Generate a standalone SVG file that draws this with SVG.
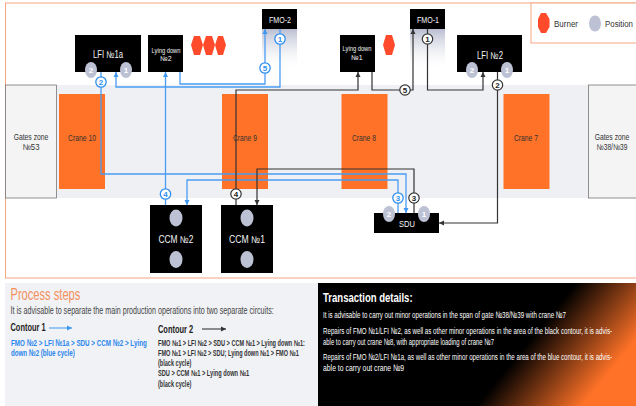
<svg xmlns="http://www.w3.org/2000/svg" width="636" height="406" viewBox="0 0 636 406">
<style>
text{font-family:"Liberation Sans",Arial,sans-serif}
.box{fill:#000}
.crane{fill:#ff7227}
.wt{fill:#f4f4f4;text-anchor:middle}
.dk{fill:#333;text-anchor:middle}
.gate{fill:#f4f4f5;stroke:#777;stroke-width:.8}
.pos{fill:#bcc1d4}
.posl{fill:#fff;font-size:8px;font-weight:bold;text-anchor:middle}
.burn{fill:#ff4b2b}
.bl{fill:none;stroke:#4a9cf3;stroke-width:1.3}
.bk{fill:none;stroke:#333;stroke-width:1.2}
.bb{fill:#fff;stroke:#2f8ff0;stroke-width:1.3}
.kb{fill:#fff;stroke:#333;stroke-width:1.2}
.bt{font-size:8px;font-weight:bold;text-anchor:middle}
.body{font-size:9.500px;fill:#fff}
.st{font-size:8.500px;fill:#333;font-weight:bold}
.sb{font-size:9.500px;fill:#2a86ea;font-weight:bold}
</style>
<defs>
<marker id="ab" markerUnits="userSpaceOnUse" markerWidth="7" markerHeight="6" refX="5" refY="3" orient="auto"><path d="M0 0.500L5 3L0 5.500z" fill="#3f97f2"/></marker>
<marker id="ak" markerUnits="userSpaceOnUse" markerWidth="7" markerHeight="6" refX="5" refY="3" orient="auto"><path d="M0 0.500L5 3L0 5.500z" fill="#333"/></marker>
<linearGradient id="fade" x1="0" y1="0" x2="0" y2="1"><stop offset="0" stop-color="#b9bdd0"/><stop offset="1" stop-color="#fff" stop-opacity="0"/></linearGradient>
<linearGradient id="dark" gradientUnits="userSpaceOnUse" x1="476" y1="406" x2="540" y2="458"><stop offset="0" stop-color="#000"/><stop offset="1" stop-color="#ff7227"/></linearGradient>
</defs>
<rect width="636" height="406" fill="#fff"/>
<rect x="5.500" y="3" width="640" height="275" fill="#fff" stroke="#f4a582" stroke-width="1"/>
<rect x="6" y="85" width="630" height="113" fill="#eff0f4"/>
<rect x="262" y="29" width="35" height="42" fill="url(#fade)"/>
<rect x="410" y="29" width="35" height="42" fill="url(#fade)"/>

<g id="legend">
<rect x="531" y="3" width="110" height="40" fill="#fff" stroke="#f4a582"/>
<path class="burn" d="M541 13L546 13L549.500 19L549.500 27L546 33L541 33L538 27L538 19z"/>
<text transform="translate(554 27) scale(.8 1)" font-size="9.500" fill="#333" textLength="30" lengthAdjust="spacingAndGlyphs">Burner</text>
<ellipse class="pos" cx="595" cy="23.500" rx="6" ry="8"/>
<text transform="translate(605 27) scale(.8 1)" font-size="9.500" fill="#333" textLength="35" lengthAdjust="spacingAndGlyphs">Position</text>
</g>

<g id="gates-53"><rect class="gate" x="5.500" y="85" width="51" height="113"/><text class="dk" font-size="8.500" transform="translate(31 140) scale(.8 1)">Gates zone</text><text class="dk" font-size="8.500" x="31" y="150" textLength="17" lengthAdjust="spacingAndGlyphs">№53</text></g>
<g id="gates-38"><rect class="gate" x="588.500" y="85" width="50" height="113"/><text class="dk" font-size="8.500" transform="translate(612 140) scale(.8 1)">Gates zone</text><text class="dk" font-size="8.500" transform="translate(612 150) scale(.78 1)">№38/№39</text></g>
<g id="crane-10"><rect class="crane" x="59" y="94" width="46" height="95"/><text class="dk" font-size="9" x="82" y="141" textLength="28" lengthAdjust="spacingAndGlyphs">Crane 10</text></g>
<g id="crane-9"><rect class="crane" x="222" y="94" width="46" height="95"/><text class="dk" font-size="9" x="245" y="141" textLength="24" lengthAdjust="spacingAndGlyphs">Crane 9</text></g>
<g id="crane-8"><rect class="crane" x="341.500" y="94" width="46" height="95"/><text class="dk" font-size="9" x="364" y="141" textLength="24" lengthAdjust="spacingAndGlyphs">Crane 8</text></g>
<g id="crane-7"><rect class="crane" x="503.500" y="94" width="46" height="95"/><text class="dk" font-size="9" x="526" y="141" textLength="24" lengthAdjust="spacingAndGlyphs">Crane 7</text></g>

<g id="connectors">
<path class="bl" marker-end="url(#ab)" d="M280 29V87H116V72"/>
<path class="bl" marker-end="url(#ab)" d="M180 72V84H265V29"/>
<path class="bl" marker-end="url(#ab)" d="M101 72V174H406V213"/>
<path class="bl" marker-end="url(#ab)" d="M398 213V180H187V205"/>
<path class="bl" marker-end="url(#ab)" d="M165.500 205V72"/>
<path class="bk" marker-end="url(#ak)" d="M427.500 29V90H483V72"/>
<path class="bk" marker-end="url(#ak)" d="M372 72V90H413V29"/>
<path class="bk" marker-end="url(#ak)" d="M497.500 72V223H439"/>
<path class="bk" marker-end="url(#ak)" d="M414 213V169H257V205"/>
<path class="bk" marker-end="url(#ak)" d="M236 205V90H358V72"/>
</g>

<g id="fmo-2"><rect class="box" x="262" y="9" width="35" height="20"/><text class="wt" font-size="9" x="280" y="23" textLength="22" lengthAdjust="spacingAndGlyphs">FMO-2</text></g>
<g id="fmo-1"><rect class="box" x="410" y="9" width="35" height="20"/><text class="wt" font-size="9" x="428" y="23" textLength="22" lengthAdjust="spacingAndGlyphs">FMO-1</text></g>
<g id="lfi-1a"><rect class="box" x="75" y="35" width="66" height="37"/><text class="wt" font-size="10" x="108" y="58" textLength="30" lengthAdjust="spacingAndGlyphs">LFI №1a</text>
<ellipse class="pos" cx="91" cy="70" rx="6" ry="8"/><text class="posl" x="91" y="73">2</text><ellipse class="pos" cx="126" cy="70" rx="6" ry="8"/><text class="posl" x="126" y="73">1</text></g>
<g id="lying-2"><rect class="box" x="148" y="35" width="35" height="37"/><text class="wt" font-size="7" x="166" y="53" textLength="29" lengthAdjust="spacingAndGlyphs">Lying down</text><text class="wt" font-size="7" x="166" y="61">№2</text>
<path class="burn" d="M194 36L200 36L203 45L200 55L194 55L191 45z"/><path class="burn" d="M206 36L212 36L215 45L212 55L206 55L203 45z"/><path class="burn" d="M218 36L223 36L226 45L223 55L218 55L215 45z"/></g>
<g id="lying-1"><rect class="box" x="340" y="35" width="35" height="37"/><text class="wt" font-size="7" x="357" y="51" textLength="29" lengthAdjust="spacingAndGlyphs">Lying down</text><text class="wt" font-size="7" x="357" y="60">№1</text>
<path class="burn" d="M386 35L392 35L395 45L392 55L386 55L383 45z"/></g>
<g id="lfi-2"><rect class="box" x="457" y="35" width="65" height="37"/><text class="wt" font-size="10" x="490" y="59" textLength="26" lengthAdjust="spacingAndGlyphs">LFI №2</text>
<ellipse class="pos" cx="472" cy="70" rx="6" ry="8"/><text class="posl" x="472" y="73">2</text><ellipse class="pos" cx="507" cy="70" rx="6" ry="8"/><text class="posl" x="507" y="73">1</text></g>
<g id="ccm-2"><rect class="box" x="150" y="205" width="52" height="68"/><ellipse class="pos" cx="176" cy="218" rx="6.500" ry="8.500"/><ellipse class="pos" cx="176" cy="259.500" rx="6.500" ry="8.500"/><text class="wt" font-size="10" x="176" y="243" textLength="35" lengthAdjust="spacingAndGlyphs">CCM №2</text></g>
<g id="ccm-1"><rect class="box" x="221" y="205" width="52" height="68"/><ellipse class="pos" cx="247" cy="218" rx="6.500" ry="8.500"/><ellipse class="pos" cx="247" cy="259.500" rx="6.500" ry="8.500"/><text class="wt" font-size="10" x="247" y="243" textLength="36" lengthAdjust="spacingAndGlyphs">CCM №1</text></g>
<g id="sdu"><rect class="box" x="374" y="213" width="65" height="20"/><text class="wt" font-size="9" x="407" y="227" textLength="16" lengthAdjust="spacingAndGlyphs">SDU</text>
<ellipse class="pos" cx="389" cy="214" rx="6" ry="8"/><text class="posl" x="389" y="217">2</text><ellipse class="pos" cx="424" cy="214" rx="6" ry="8"/><text class="posl" x="424" y="217">1</text></g>

<g id="badges">
<circle class="bb" cx="280" cy="39" r="5.200"/><text class="bt" fill="#2f8ff0" x="280" y="42">1</text>
<circle class="bb" cx="265" cy="68" r="5.200"/><text class="bt" fill="#2f8ff0" x="265" y="71">5</text>
<circle class="bb" cx="101" cy="82" r="5.200"/><text class="bt" fill="#2f8ff0" x="101" y="85">2</text>
<circle class="bb" cx="165.500" cy="194" r="5.200"/><text class="bt" fill="#2f8ff0" x="165.500" y="197">4</text>
<circle class="bb" cx="398" cy="198" r="5.200"/><text class="bt" fill="#2f8ff0" x="398" y="201">3</text>
<circle class="kb" cx="427.500" cy="39" r="5.200"/><text class="bt" fill="#222" x="427.500" y="42">1</text>
<circle class="kb" cx="405" cy="90" r="5.200"/><text class="bt" fill="#222" x="405" y="93">5</text>
<circle class="kb" cx="497.500" cy="85" r="5.200"/><text class="bt" fill="#222" x="497.500" y="88">2</text>
<circle class="kb" cx="414" cy="198" r="5.200"/><text class="bt" fill="#222" x="414" y="201">3</text>
<circle class="kb" cx="236" cy="194" r="5.200"/><text class="bt" fill="#222" x="236" y="197">4</text>
</g>

<g id="process">
<rect x="5" y="283" width="313" height="123" fill="#f1f2f6"/>
<text transform="translate(10.500 300) scale(.72 1)" font-size="17" fill="#f4905c" textLength="97" lengthAdjust="spacingAndGlyphs">Process steps</text>
<text transform="translate(10.500 314) scale(.7 1)" font-size="10" fill="#444" textLength="376" lengthAdjust="spacingAndGlyphs">It is advisable to separate the main production operations into two separate circuits:</text>
<text transform="translate(10.500 331) scale(.78 1)" font-size="10" font-weight="bold" fill="#222" textLength="45" lengthAdjust="spacingAndGlyphs">Contour 1</text>
<path d="M49 328H72" fill="none" stroke="#3f97f2" stroke-width="1" marker-end="url(#ab)"/>
<text class="sb" transform="translate(11 346) scale(.7 1)" textLength="194" lengthAdjust="spacingAndGlyphs">FMO №2 &gt; LFI №1a &gt; SDU &gt; CCM №2 &gt; Lying</text>
<text class="sb" transform="translate(11 356) scale(.7 1)" textLength="91" lengthAdjust="spacingAndGlyphs">down №2 (blue cycle)</text>
<text transform="translate(158 333) scale(.78 1)" font-size="10" font-weight="bold" fill="#222" textLength="45" lengthAdjust="spacingAndGlyphs">Contour 2</text>
<path d="M202 329H226" fill="none" stroke="#222" stroke-width="1" marker-end="url(#ak)"/>
<text class="st" transform="translate(158 346) scale(.68 1)" textLength="216" lengthAdjust="spacingAndGlyphs">FMO №1 &gt; LFI №2 &gt; SDU &gt; CCM №1 &gt; Lying down №1:</text>
<text class="st" transform="translate(158 356) scale(.68 1)" textLength="207" lengthAdjust="spacingAndGlyphs">FMO №1 &gt; LFI №2 &gt; SDU; Lying down №1 &gt; FMO №1</text>
<text class="st" transform="translate(158 366) scale(.68 1)" textLength="49" lengthAdjust="spacingAndGlyphs">(black cycle)</text>
<text class="st" transform="translate(158 376) scale(.68 1)" textLength="134" lengthAdjust="spacingAndGlyphs">SDU &gt; CCM №1  &gt; Lying down №1</text>
<text class="st" transform="translate(158 387) scale(.68 1)" textLength="49" lengthAdjust="spacingAndGlyphs">(black cycle)</text>
</g>

<g id="details">
<rect x="318" y="283" width="318" height="123" fill="url(#dark)"/>
<text transform="translate(323 302) scale(.8 1)" font-size="12.500" font-weight="bold" fill="#fff" textLength="112" lengthAdjust="spacingAndGlyphs">Transaction details:</text>
<text class="body" transform="translate(323 318) scale(.66 1)" textLength="368" lengthAdjust="spacingAndGlyphs">It is advisable to carry out minor operations in the span of gate №38/№39 with crane №7</text>
<text class="body" transform="translate(323 334) scale(.66 1)" textLength="438" lengthAdjust="spacingAndGlyphs">Repairs of FMO №1/LFI №2, as well as other minor operations in the area of the black contour, it is advis-</text>
<text class="body" transform="translate(323 345) scale(.66 1)" textLength="259" lengthAdjust="spacingAndGlyphs">able to carry out crane №8, with appropriate loading of crane №7</text>
<text class="body" transform="translate(323 360) scale(.66 1)" textLength="438" lengthAdjust="spacingAndGlyphs">Repairs of FMO №2/LFI №1a, as well as other minor operations in the area of the blue contour, it is advis-</text>
<text class="body" transform="translate(323 371) scale(.66 1)" textLength="123" lengthAdjust="spacingAndGlyphs">able to carry out crane №9</text>
</g>
</svg>
